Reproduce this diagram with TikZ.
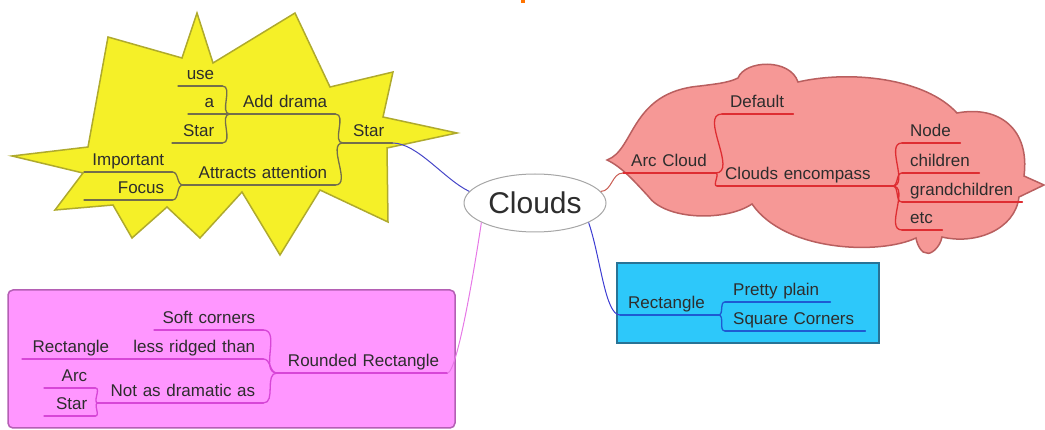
\documentclass[tikz,border=0pt]{standalone}
\usepackage{fontspec}
\setmainfont{Liberation Sans}
\usetikzlibrary{shapes.geometric}

\definecolor{starfill}{RGB}{245,240,40}
\definecolor{stardraw}{RGB}{175,170,45}
\definecolor{starline}{RGB}{115,110,75}
\definecolor{cloudfill}{RGB}{246,152,150}
\definecolor{clouddraw}{RGB}{185,95,95}
\definecolor{cloudline}{RGB}{222,45,50}
\definecolor{rectfill}{RGB}{45,200,250}
\definecolor{rectdraw}{RGB}{40,115,150}
\definecolor{rectline}{RGB}{30,90,210}
\definecolor{roundfill}{RGB}{255,150,255}
\definecolor{rounddraw}{RGB}{180,95,180}
\definecolor{roundline}{RGB}{215,70,215}
\definecolor{txt}{RGB}{45,45,45}

\begin{document}
\begin{tikzpicture}[x=1pt,y=-1pt,
topic/.style={anchor=south west,inner xsep=8pt,inner ysep=2pt,text depth=4pt,text=txt,font=\fontsize{17}{19}\selectfont},
lt/.style={topic,text width=#1,align=right},
rt/.style={topic,text width=#1,align=left},
branch/.style={line width=1.3pt,line cap=round},
link/.style={line width=1pt}
]
\useasboundingbox (0,0) rectangle (1045,430);
\fill[orange!90!red] (521,0) rectangle (525,3);

% backgrounds
\draw[fill=starfill,draw=stardraw,line width=1.5pt] (12,156) -- (88,147) -- (108,37) -- (182,58) -- (197,13) -- (213,63) -- (295,13) -- (330,87) -- (393,72) -- (383,117) -- (457,133) -- (387,148) -- (388,222) -- (320,190) -- (280,255) -- (242,192) -- (200,238) -- (167,207) -- (132,238) -- (113,205) -- (55,210) -- (83,173) -- cycle;
\draw[fill=cloudfill,draw=clouddraw,line width=1.5pt] (607,160)
  .. controls (635,150) and (630,92) .. (700,86)
  .. controls (715,84) and (728,83) .. (738,78)
  .. controls (745,60) and (790,58) .. (798,82)
  .. controls (850,70) and (925,78) .. (957,113)
  .. controls (1000,105) and (1030,130) .. (1024,176)
  -- (1044,185) -- (1019,197)
  .. controls (1015,230) and (975,245) .. (942,237)
  .. controls (940,248) and (930,255) .. (927,253)
  .. controls (922,254) and (917,245) .. (916,238)
  .. controls (880,255) and (785,252) .. (752,204)
  .. controls (725,222) and (665,220) .. (648,196)
  .. controls (635,182) and (622,167) .. (607,160) -- cycle;
\draw[fill=rectfill,draw=rectdraw,line width=2pt] (617,263) rectangle (879,343);
\draw[fill=roundfill,draw=rounddraw,line width=1.5pt,rounded corners=5pt] (8,290) rectangle (455,428);

\node[ellipse,draw=black!35,fill=white,line width=1pt,minimum width=142pt,minimum height=58pt,inner sep=0pt,text=txt,font=\fontsize{30}{32}\selectfont] (clouds) at (535,203) {Clouds};

% Star
\node[lt=33pt] (starnode) at (343,143) {Star};
\node[lt=89pt] (drama) at (230,114) {Add drama};
\node[lt=136pt] (attention) at (183,185) {Attracts attention};
\node[lt=28pt] (use) at (178,86) {use};
\node[lt=18pt] (a) at (188,114) {a};
\node[lt=34pt] (starleaf) at (172,143) {Star};
\node[lt=72pt] (important) at (84,172) {Important};
\node[lt=72pt] (focus) at (84,200) {Focus};

\foreach \n in {starnode,drama,attention,use,a,starleaf,important,focus}
  \draw[branch,starline] (\n.south west) -- (\n.south east);
\draw[branch,starline] (drama.south east) to[out=0,in=180] (starnode.south west);
\draw[branch,starline] (attention.south east) to[out=0,in=180] (starnode.south west);
\draw[branch,starline] (use.south east) to[out=0,in=180] (drama.south west);
\draw[branch,starline] (a.south east) -- (drama.south west);
\draw[branch,starline] (starleaf.south east) to[out=0,in=180] (drama.south west);
\draw[branch,starline] (important.south east) to[out=0,in=180] (attention.south west);
\draw[branch,starline] (focus.south east) to[out=0,in=180] (attention.south west);

% Arc Cloud
\node[rt=76pt] (arccloud) at (623,173) {Arc Cloud};
\node[rt=55pt] (default) at (722,114) {Default};
\node[rt=159pt] (encompass) at (717,186) {Clouds encompass};
\node[rt=42pt] (nodeleaf) at (902,143) {Node};
\node[rt=61pt] (children) at (902,173) {children};
\node[rt=104pt] (grandchildren) at (902,202) {grandchildren};
\node[rt=24pt] (etc) at (902,230) {etc};

\foreach \n in {arccloud,default,encompass,nodeleaf,children,grandchildren,etc}
  \draw[branch,cloudline] (\n.south west) -- (\n.south east);
\draw[branch,cloudline] (arccloud.south east) to[out=0,in=180] (default.south west);
\draw[branch,cloudline] (arccloud.south east) to[out=0,in=180] (encompass.south west);
\foreach \n in {nodeleaf,children,grandchildren,etc}
  \draw[branch,cloudline] (encompass.south east) to[out=0,in=180] (\n.south west);

% Rectangle
\node[rt=82pt] (rectangle) at (620,315) {Rectangle};
\node[rt=89pt] (plain) at (725,302) {Pretty plain};
\node[rt=124pt] (square) at (725,331) {Square Corners};

\foreach \n in {rectangle,plain,square}
  \draw[branch,rectline] (\n.south west) -- (\n.south east);
\draw[branch,rectline] (rectangle.south east) to[out=0,in=180] (plain.south west);
\draw[branch,rectline] (rectangle.south east) to[out=0,in=180] (square.south west);

% Rounded Rectangle
\node[lt=154pt] (rounded) at (277,373) {Rounded Rectangle};
\node[lt=93pt] (soft) at (154,330) {Soft corners};
\node[lt=130pt] (ridged) at (117,359) {less ridged than};
\node[lt=149pt] (dramatic) at (98,403) {Not as dramatic as};
\node[lt=79pt] (rectleaf) at (22,359) {Rectangle};
\node[lt=35pt] (arcleaf) at (44,388) {Arc};
\node[lt=35pt] (starleaf2) at (44,416) {Star};

\foreach \n in {rounded,soft,ridged,dramatic,rectleaf,arcleaf,starleaf2}
  \draw[branch,roundline] (\n.south west) -- (\n.south east);
\foreach \n in {soft,ridged,dramatic}
  \draw[branch,roundline] (\n.south east) to[out=0,in=180] (rounded.south west);
\draw[branch,roundline] (rectleaf.south east) -- (ridged.south west);
\draw[branch,roundline] (arcleaf.south east) to[out=0,in=180] (dramatic.south west);
\draw[branch,roundline] (starleaf2.south east) to[out=0,in=180] (dramatic.south west);

% links to the centre
\draw[link,color={rgb,255:red,70;green,70;blue,200}] (starnode.south east) .. controls +(25,0) and +(-25,-12) .. (clouds.170);
\draw[link,color={rgb,255:red,200;green,90;blue,80}] (clouds.10) to[out=0,in=180] (arccloud.south west);
\draw[link,color={rgb,255:red,60;green,60;blue,210}] (clouds.-20) .. controls +(12,35) and +(-15,0) .. (rectangle.south west);
\draw[link,color={rgb,255:red,230;green,120;blue,230}] (rounded.south east) .. controls +(10,0) and +(-6,40) .. (clouds.-160);
\end{tikzpicture}
\end{document}
